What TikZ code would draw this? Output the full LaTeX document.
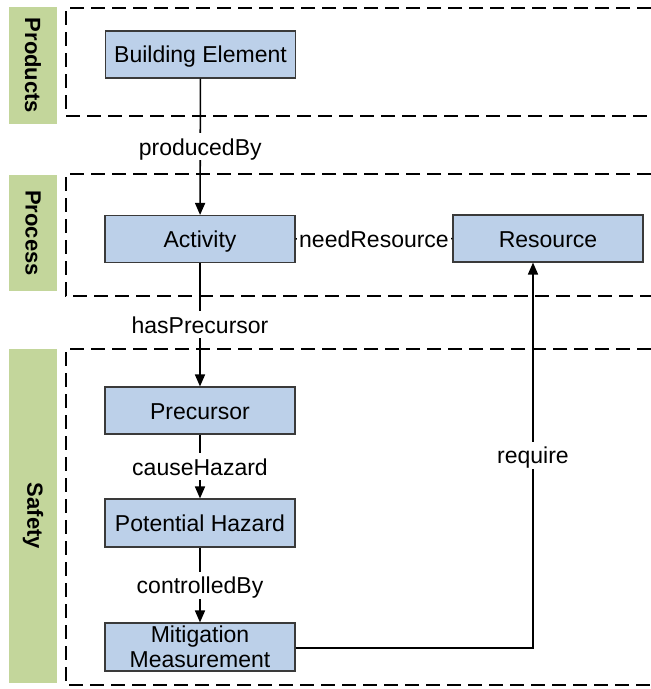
\documentclass[tikz,border=0pt]{standalone}
\usepackage{fontspec}
\setmainfont{Liberation Sans}
\usetikzlibrary{arrows.meta}
\definecolor{boxfill}{HTML}{BCD0E9}
\definecolor{boxline}{HTML}{3A3A3A}
\definecolor{laneband}{HTML}{C3D69B}
\begin{document}
\begin{tikzpicture}[x=1bp,y=-1bp,
  every node/.style={font=\fontsize{23bp}{26bp}\selectfont},
  oneline/.style={text height=20bp,text depth=3bp},
  entity/.style={draw=boxline,fill=boxfill,line width=1.1bp,minimum width=190bp,
    minimum height=47bp,inner sep=0pt,align=center},
  lane/.style={fill=laneband,draw=none,minimum width=48bp,inner sep=0pt},
  lanetext/.style={font=\bfseries\fontsize{22bp}{26bp}\selectfont,rotate=-90},
  frame/.style={draw=black,line width=1.3bp,dash pattern=on 14bp off 7bp},
  link/.style={draw=black,line width=1.6bp},
  rel/.style={fill=white,inner sep=2bp,oneline},
  tip/.style={-{Triangle[length=12bp,width=10bp]}}]
\useasboundingbox (0,0) rectangle (651,689);

% swimlane bands
\node[lane,minimum height=117bp] (lprod) at (33,65.5) {};
\node[lanetext] at (lprod) {Products};
\node[lane,minimum height=116bp] (lproc) at (33,233) {};
\node[lanetext] at (lproc) {Process};
\node[lane,minimum height=334bp] (lsafe) at (33,516) {};
\node[lanetext] at (lsafe) {Safety};

% dashed lane frames, open to the right
\draw[frame] (651,8) -- (66,8) -- (66,116) -- (651,116);
\draw[frame] (651,174) -- (66,174) -- (66,296) -- (651,296);
\draw[frame] (651,349) -- (66,349) -- (66,685) -- (651,685);

% entities
\node[entity,oneline] (be) at (200.5,54.5) {Building Element};
\node[entity,oneline] (act) at (200,239) {Activity};
\node[entity,oneline] (res) at (548,238.5) {Resource};
\node[entity,oneline] (pre) at (200,410.5) {Precursor};
\node[entity,oneline,minimum height=48bp] (haz) at (200,523) {Potential Hazard};
\node[entity,minimum height=48bp] (mit) at (200,647) {Mitigation\\[-1bp]Measurement};
\coordinate (bend) at (533,648);

% relations
\draw[link,tip] (be) -- node[rel] {producedBy} (act);
\draw[link] (act) -- node[rel] {needResource} (res);
\draw[link,tip] (act) -- node[rel] {hasPrecursor} (pre);
\draw[link,tip] (pre) -- node[rel] {causeHazard} (haz);
\draw[link,tip] (haz) -- node[rel] {controlledBy} (mit);
\draw[link,tip] (mit.east |- bend) -- (bend) -- node[rel] {require} (bend |- res.south);
\end{tikzpicture}
\end{document}
